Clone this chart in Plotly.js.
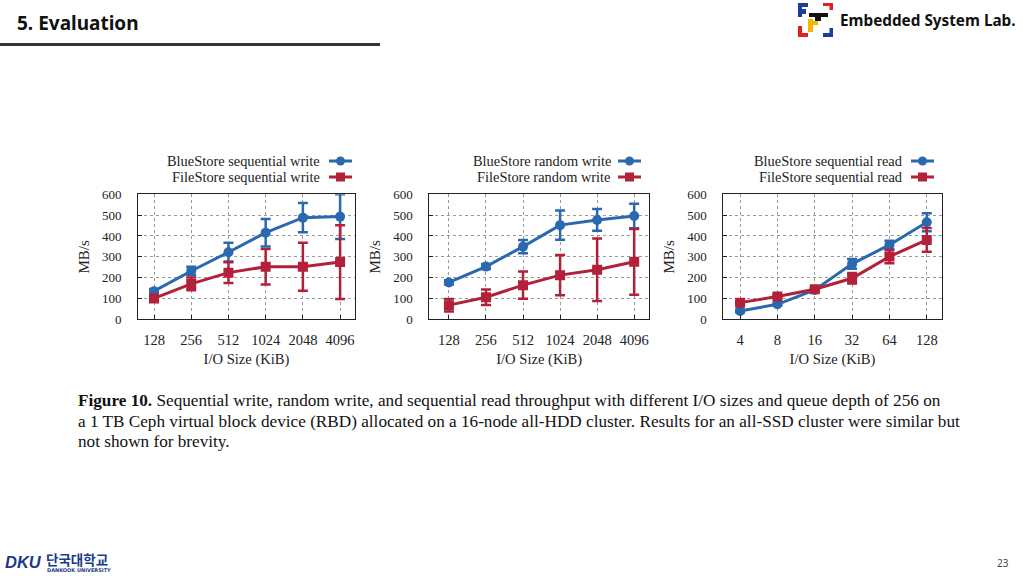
<!DOCTYPE html>
<html>
<head>
<meta charset="utf-8">
<script src="https://cdn.plot.ly/plotly-3.0.1.min.js"></script>
<style>html,body{margin:0;padding:0;background:#fff;}#chart{width:1024px;height:576px;}</style>
</head>
<body>
<div id="chart"></div>
<script>
// ---- data ----
var writeSizes = ["128", "256", "512", "1024", "2048", "4096"];
var readSizes = ["4", "8", "16", "32", "64", "128"];

var blueSeqWrite = [135, 232, 322, 416, 488, 493];
var blueSeqWriteErr = [10, 20, 45, 66, 70, 107];
var fileSeqWrite = [100, 170, 224, 252, 252, 275];
var fileSeqWriteErr = [16, 31, 50, 85, 115, 177];

var blueRandWrite = [177, 253, 349, 452, 477, 496];
var blueRandWriteErr = [10, 12, 32, 70, 52, 59];
var fileRandWrite = [68, 106, 164, 212, 238, 276];
var fileRandWriteErr = [30, 37, 65, 97, 150, 158];

var blueSeqRead = [40, 72, 141, 266, 357, 466];
var blueSeqReadErr = [6, 6, 6, 23, 20, 43];
var fileSeqRead = [80, 109, 144, 197, 301, 381];
var fileSeqReadErr = [6, 6, 6, 25, 32, 57];

var legendNames = [
  ["BlueStore sequential write", "FileStore sequential write"],
  ["BlueStore random write", "FileStore random write"],
  ["BlueStore sequential read", "FileStore sequential read"]
];

// ---- style ----
var BLUE = "#2a68b0";
var RED = "#b3203a";
var W = 1024, H = 576;
function px(x) { return x / W; }
function py(y) { return 1 - y / H; }
var SERIF = "Liberation Serif, Times New Roman, serif";

function series(x, y, e, color, symbol, xa, ya) {
  return {
    x: x, y: y, xaxis: xa, yaxis: ya, type: "scatter", mode: "lines+markers",
    showlegend: false, hoverinfo: "skip",
    line: { color: color, width: 3 },
    marker: { color: color, symbol: symbol, size: 10 },
    error_y: { type: "data", array: e, visible: true, color: color, thickness: 2.5, width: 5 }
  };
}

var traces = [
  series(writeSizes, blueSeqWrite, blueSeqWriteErr, BLUE, "circle", "x", "y"),
  series(writeSizes, fileSeqWrite, fileSeqWriteErr, RED, "square", "x", "y"),
  series(writeSizes, blueRandWrite, blueRandWriteErr, BLUE, "circle", "x2", "y2"),
  series(writeSizes, fileRandWrite, fileRandWriteErr, RED, "square", "x2", "y2"),
  series(readSizes, blueSeqRead, blueSeqReadErr, BLUE, "circle", "x3", "y3"),
  series(readSizes, fileSeqRead, fileSeqReadErr, RED, "square", "x3", "y3")
];

var yDomain = [py(319.3), py(194.3)];
var plots = [
  { l: 138, r: 355, range: [-0.43, 5.40], legendEnd: 322, lineStart: 329, lineEnd: 352 },
  { l: 429.3, r: 649, range: [-0.53, 5.40], legendEnd: 613, lineStart: 618, lineEnd: 641 },
  { l: 723.3, r: 941.7, range: [-0.45, 5.40], legendEnd: 905, lineStart: 911, lineEnd: 934 }
];

function xAxis(p, yname) {
  return {
    domain: [px(p.l), px(p.r)], anchor: yname, type: "category", range: p.range,
    showline: true, mirror: true, linecolor: "#222", linewidth: 1,
    showgrid: true, gridcolor: "#999", griddash: "dot", gridwidth: 1,
    ticks: "inside", ticklen: 4, tickcolor: "#222", zeroline: false,
    ticklabelstandoff: 7,
    tickfont: { family: SERIF, size: 14.5, color: "#222" },
    title: { text: "I/O Size (KiB)", font: { family: SERIF, size: 14.6, color: "#222" }, standoff: 7 },
    fixedrange: true
  };
}
function yAxis(xname) {
  return {
    domain: yDomain, anchor: xname, range: [0, 600], dtick: 100, tick0: 0,
    showline: true, mirror: true, linecolor: "#222", linewidth: 1,
    showgrid: true, gridcolor: "#999", griddash: "dot", gridwidth: 1,
    ticks: "inside", ticklen: 4, tickcolor: "#222", zeroline: false,
    ticklabelstandoff: 13,
    tickfont: { family: SERIF, size: 13, color: "#222" },
    title: { text: "MB/s", font: { family: SERIF, size: 15, color: "#222" }, standoff: 8 },
    fixedrange: true
  };
}

var layout = {
  width: W, height: H,
  margin: { l: 0, r: 0, t: 0, b: 0, pad: 0 },
  paper_bgcolor: "#fff", plot_bgcolor: "#fff",
  showlegend: false,
  xaxis: xAxis(plots[0], "y"), yaxis: yAxis("x"),
  xaxis2: xAxis(plots[1], "y2"), yaxis2: yAxis("x2"),
  xaxis3: xAxis(plots[2], "y3"), yaxis3: yAxis("x3"),
  shapes: [], annotations: []
};

// manual legends (text left, sample right)
var rowY = [161, 177];
plots.forEach(function (p, i) {
  for (var k = 0; k < 2; k++) {
    var color = k === 0 ? BLUE : RED;
    layout.annotations.push({
      xref: "paper", yref: "paper", x: px(p.legendEnd), y: py(rowY[k]),
      xanchor: "right", yanchor: "middle", showarrow: false,
      text: legendNames[i][k], font: { family: SERIF, size: 14.4, color: "#222" }
    });
    layout.shapes.push({ type: "line", xref: "paper", yref: "paper",
      x0: px(p.lineStart), x1: px(p.lineEnd), y0: py(rowY[k]), y1: py(rowY[k]),
      line: { color: color, width: 3 } });
    var cx = (p.lineStart + p.lineEnd) / 2, r = 4.5;
    layout.shapes.push({ type: k === 0 ? "circle" : "rect", xref: "paper", yref: "paper",
      x0: px(cx - r), x1: px(cx + r), y0: py(rowY[k] + r), y1: py(rowY[k] - r),
      fillcolor: color, line: { color: color, width: 0 } });
  }
});

// caption
var captionLines = [
  "<b>Figure 10.</b> Sequential write, random write, and sequential read throughput with different I/O sizes and queue depth of 256 on",
  "a 1 TB Ceph virtual block device (RBD) allocated on a 16-node all-HDD cluster. Results for an all-SSD cluster were similar but",
  "not shown for brevity."
];
var capY = [400, 421, 441];
captionLines.forEach(function (t, i) {
  layout.annotations.push({ xref: "paper", yref: "paper", x: px(76), y: py(capY[i]),
    xanchor: "left", yanchor: "middle", showarrow: false, text: t,
    font: { family: SERIF, size: 17.2, color: "#111" } });
});

// slide header
layout.annotations.push({ xref: "paper", yref: "paper", x: px(15), y: py(23),
  xanchor: "left", yanchor: "middle", showarrow: false, text: "<b>5. Evaluation</b>",
  font: { family: "Noto Sans, sans-serif", size: 19, color: "#111" } });
layout.shapes.push({ type: "line", xref: "paper", yref: "paper",
  x0: 0, x1: px(380), y0: py(44.5), y1: py(44.5), line: { color: "#333", width: 3 } });

layout.annotations.push({ xref: "paper", yref: "paper", x: px(838), y: py(20),
  xanchor: "left", yanchor: "middle", showarrow: false, text: "<b>Embedded System Lab.</b>",
  font: { family: "Noto Sans, sans-serif", size: 15.3, color: "#111" } });

// lab logo blocks [x0,y0,x1,y1,color]
var logoBlocks = [
  [798, 3, 808, 7, "#1d3d9c"], [798, 3, 802, 17, "#1d3d9c"], [802, 9, 806, 14, "#1d3d9c"],
  [823, 3, 833, 6, "#e02020"], [829.5, 3, 833, 10, "#e02020"],
  [798, 26, 802, 37, "#e02020"], [798, 33, 808, 37, "#e02020"],
  [829.5, 28, 833, 37, "#1d3d9c"], [823, 33, 833, 37, "#1d3d9c"],
  [809, 13, 828, 17, "#111"], [815, 17, 821, 21, "#111"],
  [808, 19, 813, 32, "#f5b800"], [808, 21, 818, 25, "#f5b800"]
];
logoBlocks.forEach(function (b) {
  layout.shapes.push({ type: "rect", xref: "paper", yref: "paper",
    x0: px(b[0]), x1: px(b[2]), y0: py(b[3]), y1: py(b[1]),
    fillcolor: b[4], line: { width: 0 } });
});

// university logo
layout.annotations.push({ xref: "paper", yref: "paper", x: px(3), y: py(562),
  xanchor: "left", yanchor: "middle", showarrow: false, text: "<b><i>DKU</i></b>",
  font: { family: "Liberation Sans, sans-serif", size: 16.5, color: "#1b3a8c" } });
layout.annotations.push({ xref: "paper", yref: "paper", x: px(44), y: py(559),
  xanchor: "left", yanchor: "middle", showarrow: false, text: "<b>단국대학교</b>",
  font: { family: "Noto Sans CJK KR, sans-serif", size: 13.5, color: "#1b3a8c" } });
layout.annotations.push({ xref: "paper", yref: "paper", x: px(45), y: py(569.5),
  xanchor: "left", yanchor: "middle", showarrow: false, text: "<b>DANKOOK UNIVERSITY</b>",
  font: { family: "DejaVu Sans, sans-serif", size: 5, color: "#1b3a8c" } });

// page number
layout.annotations.push({ xref: "paper", yref: "paper", x: px(1003), y: py(563),
  xanchor: "center", yanchor: "middle", showarrow: false, text: "23",
  font: { family: "Noto Sans, sans-serif", size: 10, color: "#444" } });

Plotly.newPlot("chart", traces, layout, { displayModeBar: false, staticPlot: true });
</script>
</body>
</html>
